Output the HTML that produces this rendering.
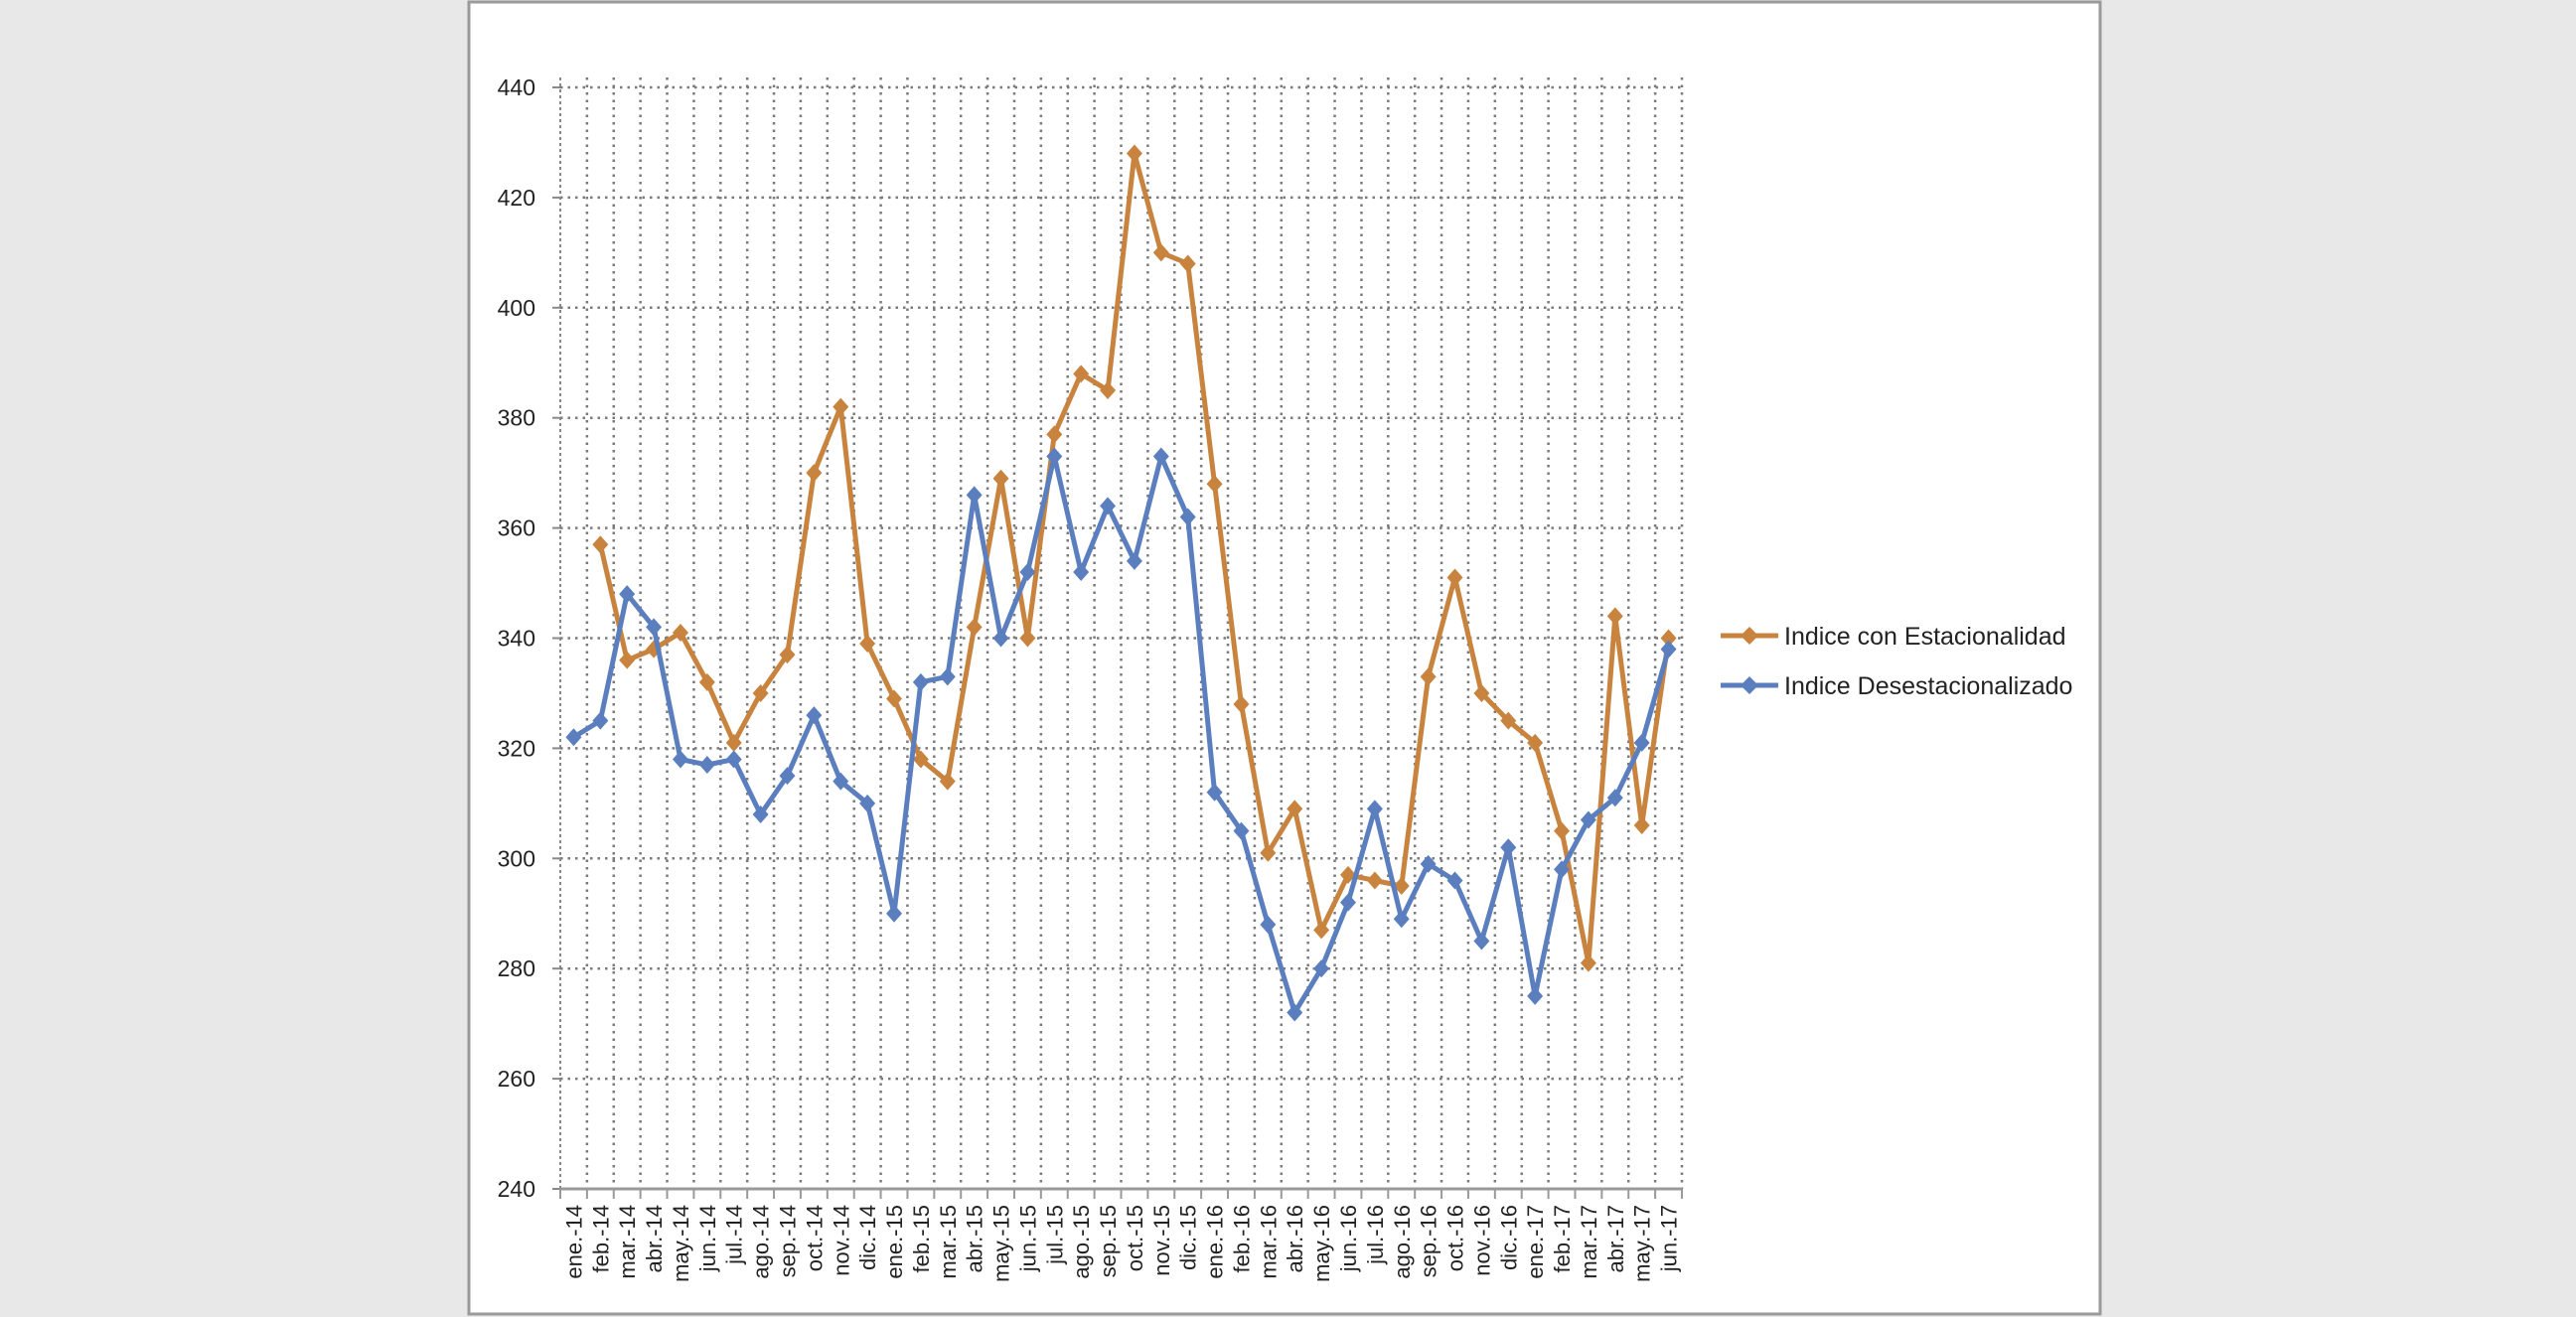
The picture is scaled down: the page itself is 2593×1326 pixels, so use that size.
<!DOCTYPE html>
<html><head><meta charset="utf-8"><style>
html,body{margin:0;padding:0;background:#e8e8e8;}
svg{display:block;font-family:"Liberation Sans",sans-serif;}
</style></head><body>
<svg id="chart" width="2593" height="1326" viewBox="0 0 2593 1326">
<rect x="0" y="0" width="2593" height="1326" fill="#e8e8e8"/>
<rect x="472" y="2" width="1642" height="1321" fill="#ffffff" stroke="#9a9a9a" stroke-width="3"/>
<g id="grid"></g>
<g id="axes"></g>
<g id="series"></g>
<g>
<g>
<line x1="1732" y1="640" x2="1790" y2="640" stroke="#C8843F" stroke-width="5"/>
<polygon points="1761,631 1770,640 1761,649 1752,640" fill="#C8843F"/>
<text x="1796" y="649" font-size="25" fill="#222">Indice con Estacionalidad</text>
</g>
<g>
<line x1="1732" y1="690" x2="1790" y2="690" stroke="#5B7FBE" stroke-width="5"/>
<polygon points="1761,681 1770,690 1761,699 1752,690" fill="#5B7FBE"/>
<text x="1796" y="699" font-size="25" fill="#222">Indice Desestacionalizado</text>
</g>
</g>
</svg>
<script>
const categories = ["ene.-14","feb.-14","mar.-14","abr.-14","may.-14","jun.-14","jul.-14","ago.-14","sep.-14","oct.-14","nov.-14","dic.-14",
"ene.-15","feb.-15","mar.-15","abr.-15","may.-15","jun.-15","jul.-15","ago.-15","sep.-15","oct.-15","nov.-15","dic.-15",
"ene.-16","feb.-16","mar.-16","abr.-16","may.-16","jun.-16","jul.-16","ago.-16","sep.-16","oct.-16","nov.-16","dic.-16",
"ene.-17","feb.-17","mar.-17","abr.-17","may.-17","jun.-17"];
const conEstacionalidad = [null,357,336,338,341,332,321,330,337,370,382,339,
329,318,314,342,369,340,377,388,385,428,410,408,
368,328,301,309,287,297,296,295,333,351,330,325,
321,305,281,344,306,340];
const desestacionalizado = [322,325,348,342,318,317,318,308,315,326,314,310,
290,332,333,366,340,352,373,352,364,354,373,362,
312,305,288,272,280,292,309,289,299,296,285,302,
275,298,307,311,321,338];
const yTicks = [240,260,280,300,320,340,360,380,400,420,440];

const NS="http://www.w3.org/2000/svg";
const X0=564, X1=1693, YMIN=240, YMAX=440, YB=1197, YT=88;
const step=(X1-X0)/categories.length;
function xPos(i){return X0+(i+0.5)*step;}
function yPos(v){return YB-(v-YMIN)/(YMAX-YMIN)*(YB-YT);}
function mk(tag,attrs,parent){const e=document.createElementNS(NS,tag);for(const k in attrs)e.setAttribute(k,attrs[k]);parent.appendChild(e);return e;}
const grid=document.getElementById('grid'), axes=document.getElementById('axes'), series=document.getElementById('series');

for(let i=1;i<=categories.length;i++){
  const x=X0+i*step;
  const l=mk('line',{x1:x,y1:YT-10,x2:x,y2:YB,stroke:'#7a7a7a','stroke-width':2.5,'stroke-dasharray':'2.5 5'},grid);
  
  
}
yTicks.forEach(v=>{
  const y=yPos(v);
  if(v>YMIN){
    const l=mk('line',{x1:X0,y1:y,x2:X1,y2:y,stroke:'#7a7a7a','stroke-width':2.5,'stroke-dasharray':'2.5 5'},grid);
    
    
  }
  mk('line',{x1:X0-8,y1:y,x2:X0,y2:y,stroke:'#888','stroke-width':2},axes);
  const t=mk('text',{x:539,y:y+8,'font-size':23,'text-anchor':'end',fill:'#222'},axes);
  t.textContent=v;
  
  
});
const ya=mk('line',{x1:X0,y1:YT-10,x2:X0,y2:YB,stroke:'#888','stroke-width':2,'stroke-dasharray':'3 3'},axes);


const xa=mk('line',{x1:X0,y1:YB,x2:X1,y2:YB,stroke:'#999','stroke-width':3},axes);


for(let i=0;i<=categories.length;i++){
  const x=X0+i*step;
  mk('line',{x1:x,y1:YB,x2:x,y2:YB+10,stroke:'#999','stroke-width':2},axes);
}
categories.forEach((c,i)=>{
  const x=xPos(i)+8, y=YB+16;
  const t=mk('text',{x:x,y:y,'font-size':22,'text-anchor':'end',fill:'#222',transform:`rotate(-90 ${x} ${y})`},axes);
  t.textContent=c;
  
  
});

function drawSeries(vals,color,name){
  let d='';
  vals.forEach((v,i)=>{ if(v==null) return; d+=(d?'L':'M')+xPos(i)+' '+yPos(v)+' '; });
  const p=mk('path',{d:d,fill:'none',stroke:color,'stroke-width':5,'stroke-linejoin':'round'},series);
  
  
  vals.forEach((v,i)=>{
    if(v==null) return;
    const x=xPos(i), y=yPos(v);
    const m=mk('polygon',{points:`${x},${y-9} ${x+8},${y} ${x},${y+9} ${x-8},${y}`,fill:color},series);
    
    
  });
}
drawSeries(conEstacionalidad,'#C8843F','con-estacionalidad');
drawSeries(desestacionalizado,'#5B7FBE','desestacionalizado');
</script>
</body></html>
